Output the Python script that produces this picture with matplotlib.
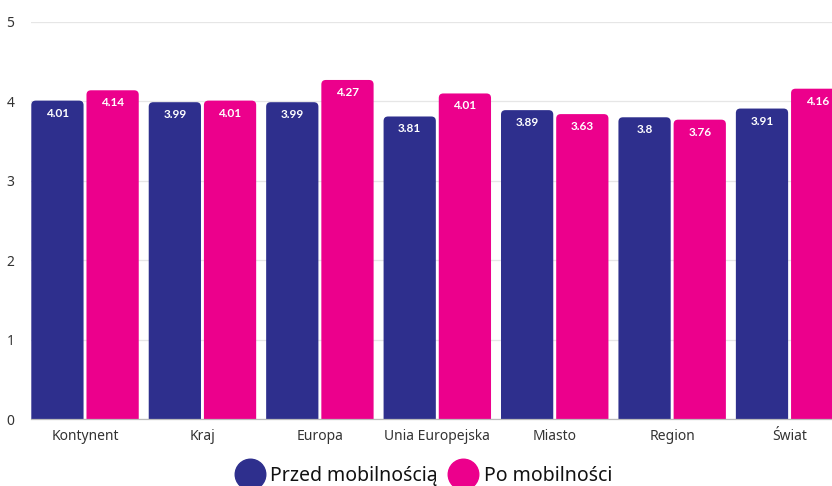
import matplotlib
matplotlib.use("Agg")
import matplotlib.pyplot as plt
from matplotlib.patches import FancyBboxPatch
from matplotlib.lines import Line2D
import numpy as np

plt.rcParams['font.family'] = ['Lato', 'DejaVu Sans']

categories = ["Kontynent", "Kraj", "Europa", "Unia Europejska", "Miasto", "Region", "Świat"]
before_values = [4.01, 3.99, 3.99, 3.81, 3.89, 3.80, 3.91]
after_values = [4.14, 4.01, 4.27, 4.10, 3.84, 3.77, 4.16]
before_labels = ["4.01", "3.99", "3.99", "3.81", "3.89", "3.8", "3.91"]
after_labels = ["4.14", "4.01", "4.27", "4.01", "3.63", "3.76", "4.16"]
series_names = ["Przed mobilnością", "Po mobilności"]
y_ticks = [0, 1, 2, 3, 4, 5]

BLUE = "#2E2F8D"
PINK = "#EC008C"
SANS = ['Noto Sans', 'DejaVu Sans']

W, H = 832, 486
fig = plt.figure(figsize=(W / 100, H / 100), dpi=100)
ax_left, ax_right = 31, 853
ax_bottom, ax_top = 419, 22
ax = fig.add_axes([ax_left / W, (H - ax_bottom) / H, (ax_right - ax_left) / W, (ax_bottom - ax_top) / H])

x = np.arange(len(categories))
bw = 0.445
off = 0.235

ax.set_xlim(-0.46, 6.54)
ax.set_ylim(0, 5)

px_x = (ax_right - ax_left) / 7.0
px_y = (ax_bottom - ax_top) / 5.0
r = 4.5 / px_x
aspect = px_x / px_y

def draw(vals, labels, xs, color):
    bars = ax.bar(xs, vals, bw, color=color, alpha=0)
    for rect, lab in zip(bars, labels):
        x0, w, h = rect.get_x(), rect.get_width(), rect.get_height()
        p = FancyBboxPatch((x0, -0.2), w, h + 0.2,
                           boxstyle=f"round,pad=0,rounding_size={r}",
                           mutation_aspect=aspect, fc=color, ec="none", zorder=3)
        ax.add_patch(p)
        ax.annotate(lab, (x0 + w / 2, h), xytext=(0, -9), textcoords="offset points",
                    ha="center", va="center", color="white", fontsize=8.5, fontweight="bold", zorder=4)

draw(before_values, before_labels, x - off, BLUE)
draw(after_values, after_labels, x + off, PINK)

ax.set_yticks(y_ticks)
ax.set_yticklabels([str(t) for t in y_ticks], family=SANS)
ax.yaxis.grid(True, color="#E6E6E6", linewidth=0.9, zorder=0)
ax.set_axisbelow(True)
for s in ["top", "right", "left"]:
    ax.spines[s].set_visible(False)
ax.spines["bottom"].set_color("#BBBBBB")
ax.spines["bottom"].set_linewidth(0.9)
ax.spines["bottom"].set_zorder(5)
ax.tick_params(axis="y", length=0, pad=12, labelsize=10, labelcolor="#333333")
ax.tick_params(axis="x", length=0, pad=7, labelsize=10, labelcolor="#333333")
ax.set_xticks(x)
ax.set_xticklabels(categories, family=SANS)

handles = [Line2D([0], [0], marker="o", color="none", markerfacecolor=BLUE, markeredgecolor=BLUE, markersize=22),
           Line2D([0], [0], marker="o", color="none", markerfacecolor=PINK, markeredgecolor=PINK, markersize=22)]
fig.legend(handles, series_names, loc="center", bbox_to_anchor=(426 / W, 1 - 476 / H),
           ncol=2, frameon=False, handlelength=1.0, handletextpad=0.55,
           columnspacing=0.8, labelcolor="#111111", prop={'family': SANS, 'size': 14})

fig.savefig("out.png", dpi=100)
